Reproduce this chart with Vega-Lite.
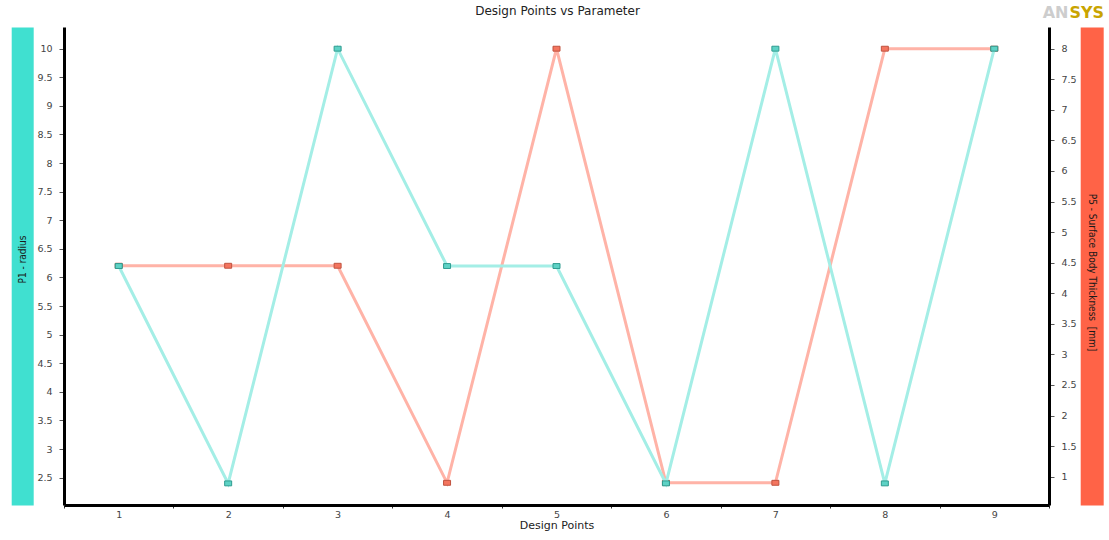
{
  "$schema": "https://vega.github.io/schema/vega-lite/v6.json",
  "width": 985,
  "height": 478,
  "autosize": {"type": "none"},
  "padding": {"left": 64, "top": 27, "right": 60, "bottom": 35},
  "background": "white",
  "config": {
    "view": {"stroke": null},
    "axis": {"grid": false, "labelFont": "DejaVu Sans", "titleFont": "DejaVu Sans"}
  },
  "data": {
    "values": [
      {"dp": 1, "P1": 6.2, "P5": 4.45},
      {"dp": 2, "P1": 2.4, "P5": 4.45},
      {"dp": 3, "P1": 10, "P5": 4.45},
      {"dp": 4, "P1": 6.2, "P5": 0.9},
      {"dp": 5, "P1": 6.2, "P5": 8},
      {"dp": 6, "P1": 2.4, "P5": 0.9},
      {"dp": 7, "P1": 10, "P5": 0.9},
      {"dp": 8, "P1": 2.4, "P5": 8},
      {"dp": 9, "P1": 10, "P5": 8}
    ]
  },
  "layer": [
    {
      "mark": {"type": "point", "opacity": 0},
      "encoding": {
        "x": {"field": "dp", "type": "ordinal", "scale": {"type": "band", "paddingInner": 0, "paddingOuter": 0},
          "axis": {"orient": "top", "domain": false, "ticks": false, "labels": false, "title": "AN", "titleX": 1004, "titleY": -10, "titleAlign": "right", "titleBaseline": "alphabetic", "titleAngle": 0, "titleFontSize": 16, "titleFontWeight": "bold", "titleColor": "#cdcdcd"}},
        "y": {"field": "P1", "type": "quantitative", "scale": {"domain": [2.022, 10.379], "nice": false, "zero": false},
          "axis": {"orient": "left", "offset": 41.8, "domainWidth": 22, "domainColor": "#40E0D0", "domainCap": "butt", "labels": false, "ticks": false, "title": "P1 - radius", "titleX": 0, "titleY": 232, "titleAngle": -90, "titleAlign": "center", "titleBaseline": "middle", "titleFont": "Liberation Sans Narrow, DejaVu Sans Condensed", "titleFontSize": 10, "titleFontWeight": "normal", "titleColor": "#1a1a1a"}}
      }
    },
    {
      "mark": {"type": "point", "opacity": 0},
      "encoding": {
        "x": {"field": "dp", "type": "ordinal", "scale": {"type": "band", "paddingInner": 0, "paddingOuter": 0},
          "axis": {"orient": "top", "domain": false, "ticks": false, "labels": false, "title": "SYS", "titleX": 1005, "titleY": -10, "titleAlign": "left", "titleBaseline": "alphabetic", "titleAngle": 0, "titleFontSize": 16, "titleFontWeight": "bold", "titleColor": "#c9a400"}},
        "y": {"field": "P5", "type": "quantitative", "scale": {"domain": [0.537, 8.355], "nice": false, "zero": false},
          "axis": {"orient": "right", "offset": 42.7, "domainWidth": 23, "domainColor": "#FF6347", "domainCap": "butt", "labels": false, "ticks": false, "title": "P5 - Surface Body Thickness\u00a0 [mm]", "titleX": 0, "titleY": 245, "titleAngle": 90, "titleAlign": "center", "titleBaseline": "middle", "titleFont": "Liberation Sans Narrow, DejaVu Sans Condensed", "titleFontSize": 10, "titleFontWeight": "normal", "titleColor": "#1a1a1a"}}
      }
    },
    {
      "mark": {"type": "line", "color": "#ffb3a7", "strokeWidth": 3,
        "point": {"shape": "M-1,-0.7H1V0.7H-1Z", "size": 49, "filled": true, "fill": "#f4755f", "stroke": "#c0523f", "strokeWidth": 1, "opacity": 1}},
      "encoding": {
        "x": {"field": "dp", "type": "ordinal", "bandPosition": 0.5, "scale": {"type": "band", "paddingInner": 0, "paddingOuter": 0},
          "axis": {"orient": "top", "domain": false, "ticks": false, "labels": false, "title": "Design Points vs Parameter", "titleX": 493, "titleY": -13, "titleAlign": "center", "titleBaseline": "alphabetic", "titleAngle": 0, "titleFontSize": 12, "titleFontWeight": "normal", "titleColor": "#222"}},
        "y": {"field": "P5", "type": "quantitative", "scale": {"domain": [0.537, 8.355], "nice": false, "zero": false},
          "axis": {"orient": "right", "values": [1, 1.5, 2, 2.5, 3, 3.5, 4, 4.5, 5, 5.5, 6, 6.5, 7, 7.5, 8], "format": ".1~f", "domainColor": "#000", "domainWidth": 3, "tickColor": "#555", "tickSize": 5, "labelPadding": 7, "labelFontSize": 9.5, "labelColor": "#444", "title": null}}
      }
    },
    {
      "mark": {"type": "line", "color": "#a4eee6", "strokeWidth": 3,
        "point": {"shape": "M-1,-0.7H1V0.7H-1Z", "size": 49, "filled": true, "fill": "#5ed2c5", "stroke": "#2f9c90", "strokeWidth": 1, "opacity": 1}},
      "encoding": {
        "x": {"field": "dp", "type": "ordinal", "bandPosition": 0.5, "scale": {"type": "band", "paddingInner": 0, "paddingOuter": 0},
          "axis": {"orient": "bottom", "labelAngle": 0, "tickBand": "extent", "domainColor": "#000", "domainWidth": 3, "tickColor": "#333", "tickSize": 3, "labelPadding": 1, "labelFontSize": 9.5, "labelColor": "#444", "title": "Design Points", "titleX": 492.5, "titleY": 23, "titleAlign": "center", "titleBaseline": "alphabetic", "titleFontSize": 11, "titleFontWeight": "normal", "titleColor": "#222"}},
        "y": {"field": "P1", "type": "quantitative", "scale": {"domain": [2.022, 10.379], "nice": false, "zero": false},
          "axis": {"orient": "left", "values": [2.5, 3, 3.5, 4, 4.5, 5, 5.5, 6, 6.5, 7, 7.5, 8, 8.5, 9, 9.5, 10], "format": ".1~f", "domainColor": "#000", "domainWidth": 3, "tickColor": "#555", "tickSize": 5, "labelPadding": 7, "labelFontSize": 9.5, "labelColor": "#444", "title": null}}
      }
    }
  ],
  "resolve": {
    "scale": {"x": "independent", "y": "independent"},
    "axis": {"x": "independent", "y": "independent"}
  }
}
